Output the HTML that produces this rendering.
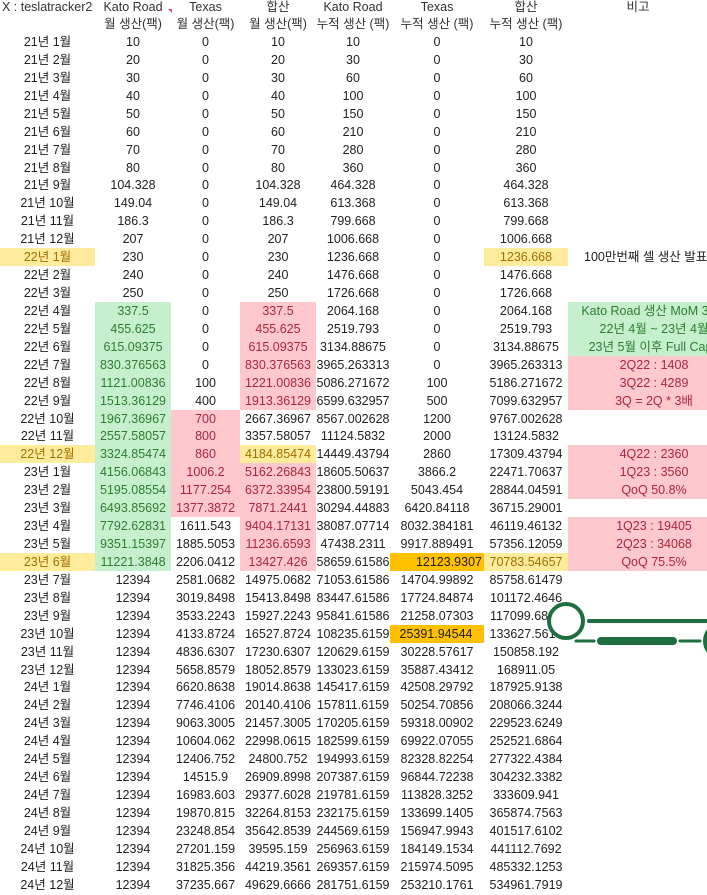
<!DOCTYPE html>
<html><head><meta charset="utf-8">
<style>
html,body{margin:0;padding:0;background:#fff;}
body{width:707px;height:895px;overflow:hidden;position:relative;font-family:"Liberation Sans","Noto Sans CJK KR",sans-serif;font-size:12.5px;color:#222;}
.r{position:absolute;left:0;height:18px;display:flex;line-height:18px;white-space:nowrap;}
.r span{display:block;text-align:center;height:18px;overflow:visible;}
.r span:nth-child(1){width:95px}
.r span:nth-child(2){width:76px}
.r span:nth-child(3){width:69px}
.r span:nth-child(4){width:76px}
.r span:nth-child(5){width:74px}
.r span:nth-child(6){width:94px}
.r span:nth-child(7){width:84px}
.r span:nth-child(8){width:172px}
.g{background:#c6efce;color:#2f7d32}
.p{background:#ffc7ce;color:#a8283a}
.y{background:#ffeb9c;color:#a07000}
.o{background:#ffc000;color:#222;text-align:right!important;box-sizing:border-box;padding-right:2px}
.h{color:#333}
</style></head><body>
<div class="r h" style="top:-2px"><span style="text-align:left;padding-left:2px;width:93px">X : teslatracker2</span><span>Kato Road</span><span>Texas</span><span>합산</span><span>Kato Road</span><span>Texas</span><span>합산</span><span style="width:140px">비고</span></div>
<div class="r h" style="top:15px"><span></span><span>월 생산(팩)</span><span>월 생산(팩)</span><span>월 생산(팩)</span><span>누적 생산 (팩)</span><span>누적 생산 (팩)</span><span>누적 생산 (팩)</span><span></span></div>
<div style="position:absolute;left:168px;top:9px;width:0;height:0;border-left:4px solid transparent;border-top:4px solid #e05080"></div>

<div class="r" style="top:33px"><span>21년 1월</span><span>10</span><span>0</span><span>10</span><span>10</span><span>0</span><span>10</span><span></span></div>
<div class="r" style="top:50.93px"><span>21년 2월</span><span>20</span><span>0</span><span>20</span><span>30</span><span>0</span><span>30</span><span></span></div>
<div class="r" style="top:68.86px"><span>21년 3월</span><span>30</span><span>0</span><span>30</span><span>60</span><span>0</span><span>60</span><span></span></div>
<div class="r" style="top:86.79px"><span>21년 4월</span><span>40</span><span>0</span><span>40</span><span>100</span><span>0</span><span>100</span><span></span></div>
<div class="r" style="top:104.72px"><span>21년 5월</span><span>50</span><span>0</span><span>50</span><span>150</span><span>0</span><span>150</span><span></span></div>
<div class="r" style="top:122.65px"><span>21년 6월</span><span>60</span><span>0</span><span>60</span><span>210</span><span>0</span><span>210</span><span></span></div>
<div class="r" style="top:140.58px"><span>21년 7월</span><span>70</span><span>0</span><span>70</span><span>280</span><span>0</span><span>280</span><span></span></div>
<div class="r" style="top:158.51px"><span>21년 8월</span><span>80</span><span>0</span><span>80</span><span>360</span><span>0</span><span>360</span><span></span></div>
<div class="r" style="top:176.44px"><span>21년 9월</span><span>104.328</span><span>0</span><span>104.328</span><span>464.328</span><span>0</span><span>464.328</span><span></span></div>
<div class="r" style="top:194.37px"><span>21년 10월</span><span>149.04</span><span>0</span><span>149.04</span><span>613.368</span><span>0</span><span>613.368</span><span></span></div>
<div class="r" style="top:212.3px"><span>21년 11월</span><span>186.3</span><span>0</span><span>186.3</span><span>799.668</span><span>0</span><span>799.668</span><span></span></div>
<div class="r" style="top:230.23px"><span>21년 12월</span><span>207</span><span>0</span><span>207</span><span>1006.668</span><span>0</span><span>1006.668</span><span></span></div>
<div class="r" style="top:248.16px"><span class="y">22년 1월</span><span>230</span><span>0</span><span>230</span><span>1236.668</span><span>0</span><span class="y">1236.668</span><span style="text-align:left;padding-left:16px;width:156px">100만번째 셀 생산 발표</span></div>
<div class="r" style="top:266.09px"><span>22년 2월</span><span>240</span><span>0</span><span>240</span><span>1476.668</span><span>0</span><span>1476.668</span><span></span></div>
<div class="r" style="top:284.02px"><span>22년 3월</span><span>250</span><span>0</span><span>250</span><span>1726.668</span><span>0</span><span>1726.668</span><span></span></div>
<div class="r" style="top:301.95px"><span>22년 4월</span><span class="g">337.5</span><span>0</span><span class="p">337.5</span><span>2064.168</span><span>0</span><span>2064.168</span><span class="g">Kato Road 생산 MoM 35%</span></div>
<div class="r" style="top:319.88px"><span>22년 5월</span><span class="g">455.625</span><span>0</span><span class="p">455.625</span><span>2519.793</span><span>0</span><span>2519.793</span><span class="g">22년 4월 ~ 23년 4월</span></div>
<div class="r" style="top:337.81px"><span>22년 6월</span><span class="g">615.09375</span><span>0</span><span class="p">615.09375</span><span>3134.88675</span><span>0</span><span>3134.88675</span><span class="g">23년 5월 이후 Full Capa</span></div>
<div class="r" style="top:355.74px"><span>22년 7월</span><span class="g">830.376563</span><span>0</span><span class="p">830.376563</span><span>3965.263313</span><span>0</span><span>3965.263313</span><span class="p">2Q22 : 1408</span></div>
<div class="r" style="top:373.67px"><span>22년 8월</span><span class="g">1121.00836</span><span>100</span><span class="p">1221.00836</span><span>5086.271672</span><span>100</span><span>5186.271672</span><span class="p">3Q22 : 4289</span></div>
<div class="r" style="top:391.6px"><span>22년 9월</span><span class="g">1513.36129</span><span>400</span><span class="p">1913.36129</span><span>6599.632957</span><span>500</span><span>7099.632957</span><span class="p">3Q = 2Q * 3배</span></div>
<div class="r" style="top:409.53px"><span>22년 10월</span><span class="g">1967.36967</span><span class="p">700</span><span>2667.36967</span><span>8567.002628</span><span>1200</span><span>9767.002628</span><span></span></div>
<div class="r" style="top:427.46px"><span>22년 11월</span><span class="g">2557.58057</span><span class="p">800</span><span>3357.58057</span><span>11124.5832</span><span>2000</span><span>13124.5832</span><span></span></div>
<div class="r" style="top:445.39px"><span class="y">22년 12월</span><span class="g">3324.85474</span><span class="p">860</span><span class="y">4184.85474</span><span>14449.43794</span><span>2860</span><span>17309.43794</span><span class="p">4Q22 : 2360</span></div>
<div class="r" style="top:463.32px"><span>23년 1월</span><span class="g">4156.06843</span><span class="p">1006.2</span><span class="p">5162.26843</span><span>18605.50637</span><span>3866.2</span><span>22471.70637</span><span class="p">1Q23 : 3560</span></div>
<div class="r" style="top:481.25px"><span>23년 2월</span><span class="g">5195.08554</span><span class="p">1177.254</span><span class="p">6372.33954</span><span>23800.59191</span><span>5043.454</span><span>28844.04591</span><span class="p">QoQ 50.8%</span></div>
<div class="r" style="top:499.18px"><span>23년 3월</span><span class="g">6493.85692</span><span class="p">1377.3872</span><span class="p">7871.2441</span><span>30294.44883</span><span>6420.84118</span><span>36715.29001</span><span></span></div>
<div class="r" style="top:517.11px"><span>23년 4월</span><span class="g">7792.62831</span><span>1611.543</span><span class="p">9404.17131</span><span>38087.07714</span><span>8032.384181</span><span>46119.46132</span><span class="p">1Q23 : 19405</span></div>
<div class="r" style="top:535.04px"><span>23년 5월</span><span class="g">9351.15397</span><span>1885.5053</span><span class="p">11236.6593</span><span>47438.2311</span><span>9917.889491</span><span>57356.12059</span><span class="p">2Q23 : 34068</span></div>
<div class="r" style="top:552.97px"><span class="y">23년 6월</span><span class="g">11221.3848</span><span>2206.0412</span><span class="p">13427.426</span><span>58659.61586</span><span class="o">12123.9307</span><span class="y">70783.54657</span><span class="p">QoQ 75.5%</span></div>
<div class="r" style="top:570.9px"><span>23년 7월</span><span>12394</span><span>2581.0682</span><span>14975.0682</span><span>71053.61586</span><span>14704.99892</span><span>85758.61479</span><span></span></div>
<div class="r" style="top:588.83px"><span>23년 8월</span><span>12394</span><span>3019.8498</span><span>15413.8498</span><span>83447.61586</span><span>17724.84874</span><span>101172.4646</span><span></span></div>
<div class="r" style="top:606.76px"><span>23년 9월</span><span>12394</span><span>3533.2243</span><span>15927.2243</span><span>95841.61586</span><span>21258.07303</span><span>117099.6889</span><span></span></div>
<div class="r" style="top:624.69px"><span>23년 10월</span><span>12394</span><span>4133.8724</span><span>16527.8724</span><span>108235.6159</span><span class="o" style="text-align:center!important">25391.94544</span><span>133627.5613</span><span></span></div>
<div class="r" style="top:642.62px"><span>23년 11월</span><span>12394</span><span>4836.6307</span><span>17230.6307</span><span>120629.6159</span><span>30228.57617</span><span>150858.192</span><span></span></div>
<div class="r" style="top:660.55px"><span>23년 12월</span><span>12394</span><span>5658.8579</span><span>18052.8579</span><span>133023.6159</span><span>35887.43412</span><span>168911.05</span><span></span></div>
<div class="r" style="top:678.48px"><span>24년 1월</span><span>12394</span><span>6620.8638</span><span>19014.8638</span><span>145417.6159</span><span>42508.29792</span><span>187925.9138</span><span></span></div>
<div class="r" style="top:696.41px"><span>24년 2월</span><span>12394</span><span>7746.4106</span><span>20140.4106</span><span>157811.6159</span><span>50254.70856</span><span>208066.3244</span><span></span></div>
<div class="r" style="top:714.34px"><span>24년 3월</span><span>12394</span><span>9063.3005</span><span>21457.3005</span><span>170205.6159</span><span>59318.00902</span><span>229523.6249</span><span></span></div>
<div class="r" style="top:732.27px"><span>24년 4월</span><span>12394</span><span>10604.062</span><span>22998.0615</span><span>182599.6159</span><span>69922.07055</span><span>252521.6864</span><span></span></div>
<div class="r" style="top:750.2px"><span>24년 5월</span><span>12394</span><span>12406.752</span><span>24800.752</span><span>194993.6159</span><span>82328.82254</span><span>277322.4384</span><span></span></div>
<div class="r" style="top:768.13px"><span>24년 6월</span><span>12394</span><span>14515.9</span><span>26909.8998</span><span>207387.6159</span><span>96844.72238</span><span>304232.3382</span><span></span></div>
<div class="r" style="top:786.06px"><span>24년 7월</span><span>12394</span><span>16983.603</span><span>29377.6028</span><span>219781.6159</span><span>113828.3252</span><span>333609.941</span><span></span></div>
<div class="r" style="top:803.99px"><span>24년 8월</span><span>12394</span><span>19870.815</span><span>32264.8153</span><span>232175.6159</span><span>133699.1405</span><span>365874.7563</span><span></span></div>
<div class="r" style="top:821.92px"><span>24년 9월</span><span>12394</span><span>23248.854</span><span>35642.8539</span><span>244569.6159</span><span>156947.9943</span><span>401517.6102</span><span></span></div>
<div class="r" style="top:839.85px"><span>24년 10월</span><span>12394</span><span>27201.159</span><span>39595.159</span><span>256963.6159</span><span>184149.1534</span><span>441112.7692</span><span></span></div>
<div class="r" style="top:857.78px"><span>24년 11월</span><span>12394</span><span>31825.356</span><span>44219.3561</span><span>269357.6159</span><span>215974.5095</span><span>485332.1253</span><span></span></div>
<div class="r" style="top:875.71px"><span>24년 12월</span><span>12394</span><span>37235.667</span><span>49629.6666</span><span>281751.6159</span><span>253210.1761</span><span>534961.7919</span><span></span></div>

<svg style="position:absolute;left:0;top:0" width="707" height="895">
<g stroke="#1e6e40" fill="none" stroke-linecap="round">
<circle cx="566" cy="621" r="17" stroke-width="4" fill="#fff"/>
<line x1="589" y1="621" x2="710" y2="621" stroke-width="4"/>
<line x1="576" y1="641" x2="594" y2="641" stroke-width="3"/>
<line x1="601" y1="641" x2="673" y2="641" stroke-width="8"/>
<line x1="680" y1="641" x2="700" y2="641" stroke-width="3"/>
<circle cx="722" cy="641" r="17" stroke-width="4" fill="#fff"/>
</g>
</svg>
</body></html>
